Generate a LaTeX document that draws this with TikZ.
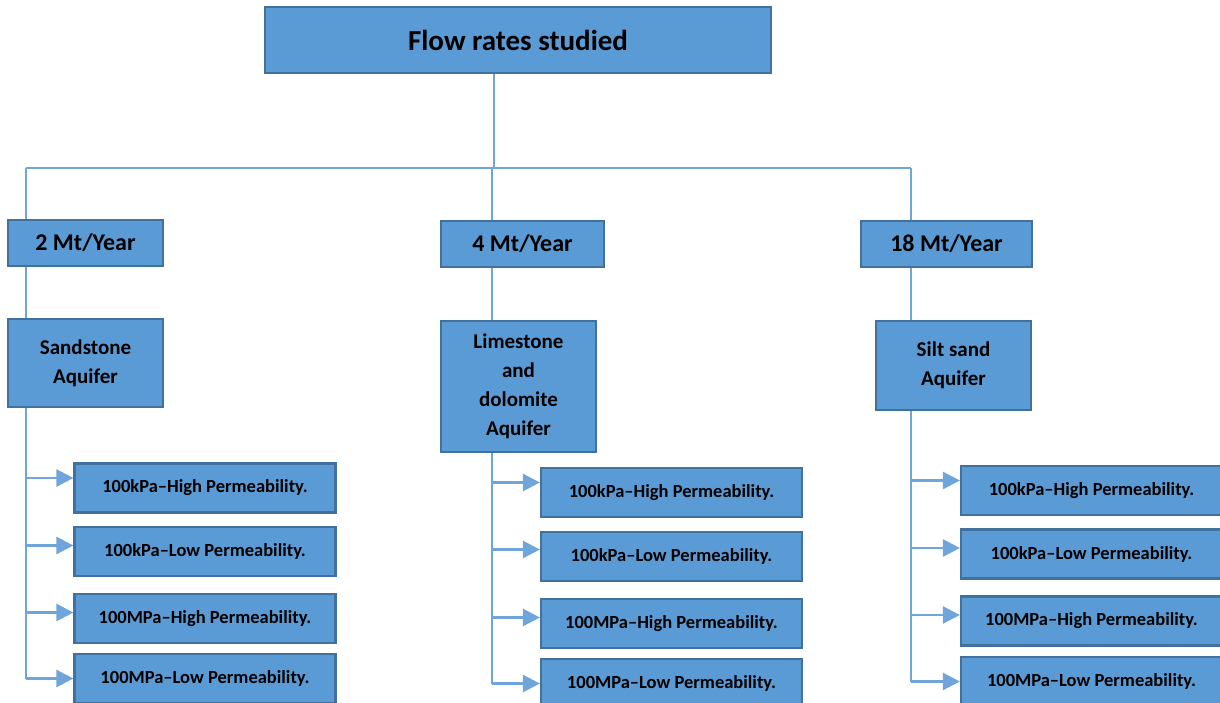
\documentclass[tikz,border=0pt]{standalone}
\usepackage{fontspec}
\setmainfont{Carlito}
\usetikzlibrary{arrows.meta}

\definecolor{boxfill}{HTML}{5B9BD5}
\definecolor{boxline}{HTML}{41719C}
\definecolor{wire}{HTML}{6FA5DA}

\tikzset{
  box/.style={draw=boxline, line width=2.2pt, fill=boxfill, inner sep=0pt,
    align=center, font=\bfseries},
  headbox/.style={box, minimum width=506pt, minimum height=66pt,
    font=\fontsize{29}{34}\selectfont\bfseries},
  ratebox/.style={box, minimum height=46pt,
    font=\fontsize{24}{28}\selectfont\bfseries},
  aqbox/.style={box, minimum width=155pt,
    font=\fontsize{21}{29}\selectfont\bfseries},
  casebox/.style={box, minimum width=261pt, minimum height=49pt,
    font=\fontsize{18.5}{22}\selectfont\bfseries},
  wireline/.style={draw=wire, line width=1.3pt},
  feed/.style={draw=wire, line width=2.6pt, -{Triangle[length=17pt,width=17pt]}}
}

\begin{document}
\begin{tikzpicture}[x=1pt, y=-1pt]
        \useasboundingbox (0,0) rectangle (1220,703);
        \clip (0,0) rectangle (1220,703);

        \node[headbox] (top) at (518,40) {Flow rates studied};

        \node[ratebox, minimum width=155pt] (r1) at (85.5,243) {2 Mt/Year};
        \node[ratebox, minimum width=163pt] (r2) at (522.5,244) {4 Mt/Year};
        \node[ratebox, minimum width=171pt] (r3) at (946.5,244) {18 Mt/Year};

        \node[aqbox, minimum height=88pt] (aq1) at (85.5,363) {Sandstone\\Aquifer};
        \node[aqbox, minimum height=131pt] (aq2) at (518.5,386.5) {Limestone\\and\\dolomite\\Aquifer};
        \node[aqbox, minimum height=89pt] (aq3) at (953.5,365.5) {Silt sand\\Aquifer};

        % sandstone cases
        \node[casebox] (s1) at (205,488) {100kPa–High Permeability.};
        \node[casebox] (s2) at (205,551.5) {100kPa–Low Permeability.};
        \node[casebox] (s3) at (205,618.5) {100MPa–High Permeability.};
        \node[casebox] (s4) at (205,678.5) {100MPa–Low Permeability.};

        % limestone cases
        \node[casebox] (l1) at (671.5,492.5) {100kPa–High Permeability.};
        \node[casebox] (l2) at (671.5,556.5) {100kPa–Low Permeability.};
        \node[casebox] (l3) at (671.5,623.5) {100MPa–High Permeability.};
        \node[casebox] (l4) at (671.5,683.5) {100MPa–Low Permeability.};

        % silt sand cases
        \node[casebox] (t1) at (1091.5,490.5) {100kPa–High Permeability.};
        \node[casebox] (t2) at (1091.5,554) {100kPa–Low Permeability.};
        \node[casebox] (t3) at (1091.5,621) {100MPa–High Permeability.};
        \node[casebox] (t4) at (1091.5,681.5) {100MPa–Low Permeability.};

        \coordinate (bus) at (494,168);
        \coordinate (c1) at (26,168);
        \coordinate (c2) at (492,168);
        \coordinate (c3) at (911,168);

        \draw[wireline] (top.south -| bus) -- (bus);
        \draw[wireline] (c1) -- (c3);
        \draw[wireline] (c1) -- (c1 |- r1.north);
        \draw[wireline] (c2) -- (c2 |- r2.north);
        \draw[wireline] (c3) -- (c3 |- r3.north);
        \draw[wireline] (c1 |- r1.south) -- (c1 |- aq1.north);
        \draw[wireline] (c2 |- r2.south) -- (c2 |- aq2.north);
        \draw[wireline] (c3 |- r3.south) -- (c3 |- aq3.north);

        \draw[wireline] (c1 |- aq1.south) -- (c1 |- s4.west);
        \draw[wireline] (c2 |- aq2.south) -- (c2 |- l4.west);
        \draw[wireline] (c3 |- aq3.south) -- (c3 |- t4.west);

        \draw[feed] ([yshift=10pt]c1 |- s1.west) -- ([yshift=10pt]s1.west);
        \draw[feed] ([yshift=6pt]c1 |- s2.west) -- ([yshift=6pt]s2.west);
        \draw[feed] ([yshift=6pt]c1 |- s3.west) -- ([yshift=6pt]s3.west);
        \draw[feed] (c1 |- s4.west) -- (s4.west);

        \draw[feed] ([yshift=10pt]c2 |- l1.west) -- ([yshift=10pt]l1.west);
        \draw[feed] ([yshift=7pt]c2 |- l2.west) -- ([yshift=7pt]l2.west);
        \draw[feed] ([yshift=6pt]c2 |- l3.west) -- ([yshift=6pt]l3.west);
        \draw[feed] (c2 |- l4.west) -- (l4.west);

        \draw[feed] ([yshift=10pt]c3 |- t1.west) -- ([yshift=10pt]t1.west);
        \draw[feed] ([yshift=6pt]c3 |- t2.west) -- ([yshift=6pt]t2.west);
        \draw[feed] ([yshift=6pt]c3 |- t3.west) -- ([yshift=6pt]t3.west);
        \draw[feed] (c3 |- t4.west) -- (t4.west);
    \end{tikzpicture}
\end{document}
